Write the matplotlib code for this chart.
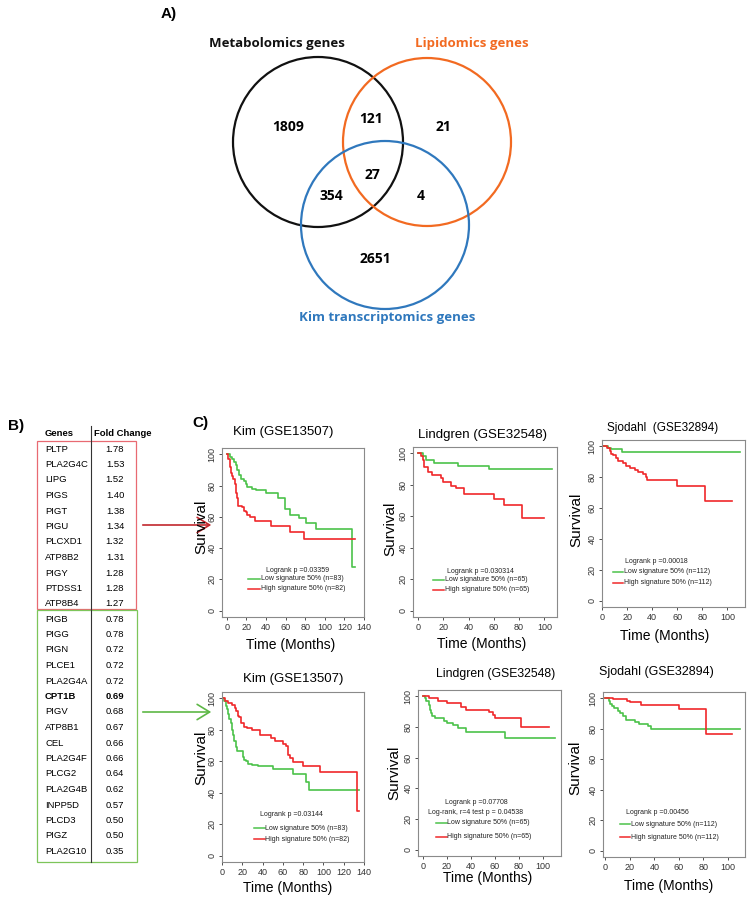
import matplotlib
matplotlib.use("Agg")
import matplotlib.pyplot as plt
from matplotlib.patches import Circle, Rectangle

plt.rcParams['font.family'] = ['Liberation Sans', 'DejaVu Sans']

# ---- panel A: venn counts
venn_sets = ["Metabolomics genes", "Lipidomics genes", "Kim transcriptomics genes"]
venn_colors = ["#111111", "#F26A21", "#2F78BD"]
venn_counts = ["1809", "121", "21", "27", "354", "4", "2651"]

# ---- panel B: gene table
up_genes = ["PLTP", "PLA2G4C", "LIPG", "PIGS", "PIGT", "PIGU", "PLCXD1", "ATP8B2",
            "PIGY", "PTDSS1", "ATP8B4"]
up_fc = ["1.78", "1.53", "1.52", "1.40", "1.38", "1.34", "1.32", "1.31", "1.28", "1.28", "1.27"]
down_genes = ["PIGB", "PIGG", "PIGN", "PLCE1", "PLA2G4A", "CPT1B", "PIGV", "ATP8B1", "CEL",
              "PLA2G4F", "PLCG2", "PLA2G4B", "INPP5D", "PLCD3", "PIGZ", "PLA2G10"]
down_fc = ["0.78", "0.78", "0.72", "0.72", "0.72", "0.69", "0.68", "0.67", "0.66", "0.66",
           "0.64", "0.62", "0.57", "0.50", "0.50", "0.35"]

# ---- panel C: KM curves (time in months, survival %)
kim1_low_t = [0, 3, 5, 7, 9, 10.5, 12, 14, 17, 19, 21, 26, 30, 40, 52, 59, 64, 74, 81, 91, 128, 131]
kim1_low_s = [100, 98, 97, 95, 93, 90, 87, 84, 83, 81, 79, 78, 77, 75, 72, 65, 61, 59, 56, 52, 28, 28]
kim1_high_t = [0, 1.5, 3, 4, 5, 6.5, 8, 9, 10.5, 11.5, 15.5, 17, 19, 21, 24, 29, 45, 64, 79, 131]
kim1_high_s = [100, 97, 92, 88, 86, 84, 81, 75, 72, 67, 66, 64, 63, 61, 60, 57.5, 54, 50.6, 45.6, 45.6]

lind1_low_t = [0, 4, 6, 13, 32, 56, 106]
lind1_low_s = [100, 98.3, 95.7, 94, 92, 90, 90]
lind1_high_t = [0, 2, 4, 5, 8, 11, 18, 20, 26, 30, 36, 60, 68, 82, 100]
lind1_high_s = [100, 98, 96, 91.5, 88, 86, 84, 82, 79.5, 78, 74, 71, 67, 59, 59]

sjo1_low_t = [0, 5, 7, 16, 110]
sjo1_low_s = [100, 99, 98.3, 96, 96]
sjo1_high_t = [0, 4, 6, 7, 9, 11, 13, 17, 19, 22, 26, 29, 33, 35, 36, 60, 82, 104]
sjo1_high_s = [100, 99, 97, 95, 94, 92.5, 90.7, 89, 87.4, 86, 84.5, 83, 82, 80, 78, 74, 64.6, 64.6]

kim2_low_t = [0, 2, 4, 5, 6, 7, 9, 10, 11, 12, 13.5, 15, 21, 22, 24, 26, 30, 35, 50, 70, 83, 86, 135]
kim2_low_s = [100, 98, 95, 93, 90, 87, 84, 80, 77, 73, 69, 66.7, 63, 61, 60, 58.5, 57.5, 57, 55, 52,
              47, 41.7, 41.7]
kim2_high_t = [0, 3, 6, 10, 13, 14, 16, 17, 19, 22, 25, 30, 37, 48, 52, 60, 63, 65, 67, 70, 80, 97,
               133, 135]
kim2_high_s = [100, 98.5, 97, 96, 94, 92, 89, 88, 84, 82, 81, 79.8, 77, 75, 73, 71, 70, 64, 62, 59.4,
               57, 53.3, 28.5, 28.5]

lind2_low_t = [0, 2, 3, 5, 6, 7, 8, 10, 18, 20, 25, 29, 36, 68, 110]
lind2_low_s = [100, 99, 97, 94, 91, 89, 87, 86, 84, 82.4, 81, 79, 77, 72.5, 72.5]
lind2_high_t = [0, 5, 13, 20, 32, 36, 55, 58, 60, 82, 104.7]
lind2_high_s = [100, 98.5, 97, 95.5, 93, 91, 89.5, 88, 86, 79.8, 79.8]

sjo2_low_t = [0, 3, 4, 5, 7, 10, 12, 14, 17, 24, 27, 35, 37, 110]
sjo2_low_s = [100, 98, 96, 95, 93.5, 91.5, 90, 88, 85.9, 84.5, 83, 81.5, 79.8, 79.8]
sjo2_high_t = [0, 6, 18, 20, 29, 60, 82, 103.5]
sjo2_high_s = [100, 99.3, 98, 97.2, 95.7, 92.8, 76.7, 76.7]

km_titles = ["Kim (GSE13507)", "Lindgren (GSE32548)", "Sjodahl  (GSE32894)",
             "Kim (GSE13507)", "Lindgren (GSE32548)", "Sjodahl (GSE32894)"]
km_pvals = [["Logrank p =0.03359"], ["Logrank p =0.030314"], ["Logrank p =0.00018"],
            ["Logrank p =0.03144"], ["Logrank p =0.07708", "Log-rank, r=4 test p = 0.04538"],
            ["Logrank p =0.00456"]]
km_low_lab = ["Low signature 50% (n=83)", "Low signature 50% (n=65)", "Low signature 50% (n=112)"] * 2
km_high_lab = ["High signature 50% (n=82)", "High signature 50% (n=65)", "High signature 50% (n=112)"] * 2
km_xticks = [range(0, 141, 20), range(0, 101, 20), range(0, 101, 20)] * 2

km_curves = [(kim1_low_t, kim1_low_s, kim1_high_t, kim1_high_s),
             (lind1_low_t, lind1_low_s, lind1_high_t, lind1_high_s),
             (sjo1_low_t, sjo1_low_s, sjo1_high_t, sjo1_high_s),
             (kim2_low_t, kim2_low_s, kim2_high_t, kim2_high_s),
             (lind2_low_t, lind2_low_s, lind2_high_t, lind2_high_s),
             (sjo2_low_t, sjo2_low_s, sjo2_high_t, sjo2_high_s)]

W, H = 750, 900
fig = plt.figure(figsize=(7.5, 9), dpi=100)
ov = fig.add_axes([0, 0, 1, 1])
ov.set_xlim(0, W)
ov.set_ylim(H, 0)
ov.axis('off')
ov.patch.set_alpha(0)

venn_font = ['Open Sans', 'DejaVu Sans']

# ---------------- A) venn
ov.text(169, 14, "A)", fontsize=11, fontweight='bold', ha='center', va='center')
circ = [(318, 142, 85), (427, 142, 84), (385, 225, 84)]
for (cx, cy, r), c in zip(circ, venn_colors):
    ov.add_patch(Circle((cx, cy), r, fill=False, ec=c, lw=1.6))
lab_pos = [(277, 44), (472, 44), (387, 317)]
for (x, y), t, c in zip(lab_pos, venn_sets, venn_colors):
    ov.text(x, y, t, fontsize=9.5, fontweight='bold', color=c, ha='center', va='center',
            family=venn_font)
num_pos = [(288, 127), (371, 119), (443, 127), (372, 175), (331, 196), (421, 196), (375, 259)]
for (x, y), t in zip(num_pos, venn_counts):
    ov.text(x, y, t, fontsize=10, fontweight='bold', ha='center', va='center', family=venn_font)

# ---------------- B) table
ov.text(16, 426, "B)", fontsize=11, fontweight='bold', ha='center', va='center')
ov.text(45, 433, "Genes", fontsize=6.8, fontweight='bold', va='center')
ov.text(94, 433, "Fold Change", fontsize=6.8, fontweight='bold', va='center')
row_h = 15.5
for i, (g, v) in enumerate(zip(up_genes, up_fc)):
    y = 449 + i * row_h
    ov.text(45, y, g, fontsize=6.8, va='center')
    ov.text(115, y, v, fontsize=6.8, va='center', ha='center')
for i, (g, v) in enumerate(zip(down_genes, down_fc)):
    y = 619 + i * row_h
    w = 'bold' if g == "CPT1B" else 'normal'
    ov.text(45, y, g, fontsize=6.8, va='center', fontweight=w)
    ov.text(115, y, v, fontsize=6.8, va='center', ha='center', fontweight=w)
ov.add_patch(Rectangle((37, 441), 99, 168, fill=False, ec='#E86A72', lw=0.9))
ov.add_patch(Rectangle((37, 610), 100, 252, fill=False, ec='#7DC55A', lw=0.9))
ov.plot([91, 91], [426, 862], color='#333333', lw=0.8)

# arrows
ov.annotate("", xy=(214, 525), xytext=(140, 525),
            arrowprops=dict(arrowstyle='->,head_length=0.9,head_width=0.55', color='#C1272D', lw=1.2))
ov.annotate("", xy=(214, 712), xytext=(140, 712),
            arrowprops=dict(arrowstyle='->,head_length=0.9,head_width=0.55', color='#5DB746', lw=1.2))

# ---------------- C) KM plots
ov.text(200, 423, "C)", fontsize=11, fontweight='bold', ha='center', va='center')

boxes = [(222, 364, 448, 617), (413, 557, 447, 617), (602, 745, 440, 607),
         (222, 364, 692, 862), (418, 561, 690, 856), (603, 745, 692, 857)]
xlims = [(-5, 140), (-4, 110), (0, 114), (0, 140), (-4, 115), (-2, 114)]
title_pos = [(283, 432), (483, 435), (663, 428), (293, 679), (496, 674), (656, 672)]
title_fs = [9.5, 9.5, 8.5, 9.5, 8.8, 9.0]
xlab_pos = [(291, 645), (482, 644), (665, 636), (288, 888), (488, 878), (669, 886)]
ylab_pos = [(201, 527), (390, 529), (576, 520), (201, 758), (394, 773), (575, 768)]
# legend layout (axes fraction): p-text x, p-text y list, line x0, x1, low y, high y
leg = [(0.535, [0.278], 0.18, 0.27, 0.225, 0.166),
       (0.465, [0.27], 0.14, 0.215, 0.218, 0.159),
       (0.38, [0.275], 0.077, 0.147, 0.21, 0.144),
       (0.49, [0.282], 0.225, 0.30, 0.20, 0.135),
       (0.405, [0.32, 0.265], 0.126, 0.20, 0.20, 0.115),
       (0.38, [0.267], 0.12, 0.19, 0.20, 0.12)]

green = '#4CC24A'
red = '#F0282A'
narrow = ['Liberation Sans Narrow', 'Liberation Sans', 'DejaVu Sans']

for k in range(6):
    L, R, T, B = boxes[k]
    ax = fig.add_axes([L / W, 1 - B / H, (R - L) / W, (B - T) / H])
    lt, ls, ht, hs = km_curves[k]
    ax.step(lt, ls, where='post', color=green, lw=1.2)
    ax.step(ht, hs, where='post', color=red, lw=1.2)
    ax.set_xlim(*xlims[k])
    ax.set_ylim(-4, 104)
    ax.set_xticks(list(km_xticks[k]))
    ax.set_yticks(range(0, 101, 20))
    ax.tick_params(labelsize=6.5, length=2.5, width=0.6, colors='#333333', pad=1.5)
    plt.setp(ax.get_yticklabels(), rotation=90, va='center')
    for s in ax.spines.values():
        s.set_color('#8a8a8a')
        s.set_linewidth(0.8)

    px, pys, x0, x1, ylo, yhi = leg[k]
    for t, py in zip(km_pvals[k], pys):
        ax.text(px, py, t, transform=ax.transAxes, fontsize=5, ha='center', va='center',
                family=narrow, color='#222222')
    ax.plot([x0, x1], [ylo, ylo], transform=ax.transAxes, color=green, lw=1.1)
    ax.plot([x0, x1], [yhi, yhi], transform=ax.transAxes, color=red, lw=1.1)
    ax.text(x1 + 0.005, ylo, km_low_lab[k], transform=ax.transAxes, fontsize=5, va='center',
            family=narrow, color='#222222')
    ax.text(x1 + 0.005, yhi, km_high_lab[k], transform=ax.transAxes, fontsize=5, va='center',
            family=narrow, color='#222222')

    tx, ty = title_pos[k]
    ov.text(tx, ty, km_titles[k], fontsize=title_fs[k], ha='center', va='center')
    xx, xy = xlab_pos[k]
    ov.text(xx, xy, "Time (Months)", fontsize=10, ha='center', va='center')
    yx, yy = ylab_pos[k]
    ov.text(yx, yy, "Survival", fontsize=11, ha='center', va='center', rotation=90)

fig.savefig("out.png", dpi=100)
